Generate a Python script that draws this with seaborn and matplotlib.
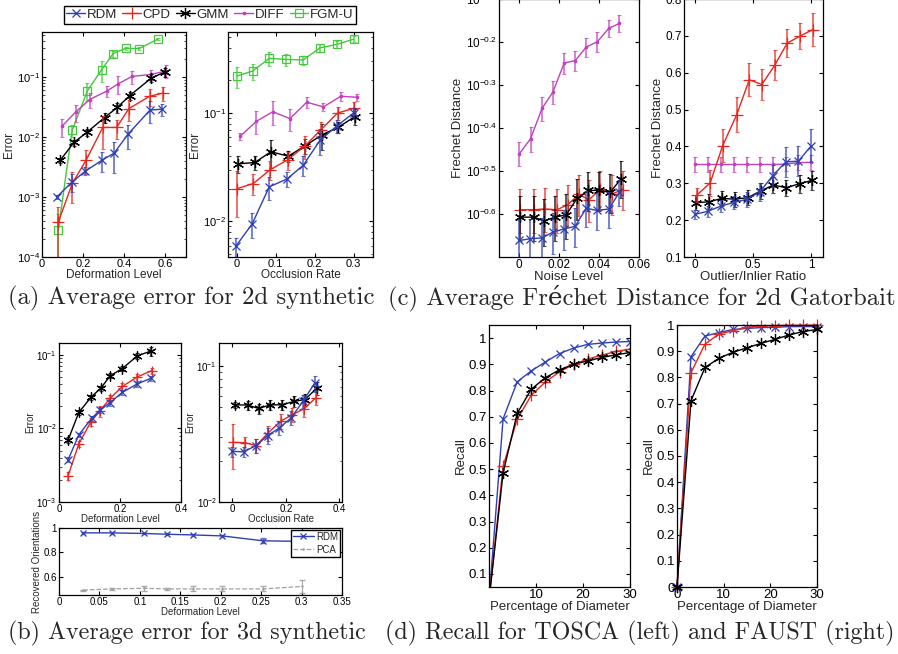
import numpy as np
import pandas as pd
import seaborn as sns
import matplotlib
matplotlib.use('Agg')
import matplotlib.pyplot as plt
from matplotlib.ticker import FixedLocator, NullLocator, LogLocator, LogFormatterMathtext

# ---------------- data ----------------
methods = ['RDM', 'CPD', 'GMM', 'DIFF', 'FGM-U']

# (a) 2d synthetic, deformation
def2d_x = {
    'RDM': [0.072, 0.148, 0.211, 0.292, 0.351, 0.417, 0.525, 0.582],
    'CPD': [0.079, 0.148, 0.216, 0.295, 0.363, 0.422, 0.523, 0.59],
    'GMM': [0.089, 0.155, 0.219, 0.304, 0.366, 0.427, 0.532, 0.596],
    'DIFF': [0.096, 0.164, 0.231, 0.315, 0.371, 0.438, 0.532, 0.602],
    'FGM-U': [0.079, 0.147, 0.221, 0.29, 0.346, 0.408, 0.472, 0.562],
}
def2d_y = {
    'RDM': [1.0e-3, 1.8e-3, 2.7e-3, 4.1e-3, 5.4e-3, 1.1e-2, 2.8e-2, 2.9e-2],
    'CPD': [3.8e-4, 1.7e-3, 4.2e-3, 1.44e-2, 1.44e-2, 2.96e-2, 4.75e-2, 5.4e-2],
    'GMM': [4.1e-3, 8.1e-3, 1.2e-2, 2.1e-2, 3.1e-2, 4.9e-2, 9.6e-2, 1.2e-1],
    'DIFF': [1.5e-2, 2.6e-2, 4.2e-2, 5.8e-2, 7.7e-2, 1.02e-1, 1.1e-1, 1.26e-1],
    'FGM-U': [2.8e-4, 1.3e-2, 5.9e-2, 1.32e-1, 2.45e-1, 3.0e-1, 2.96e-1, 4.25e-1],
}
def2d_err = {
    'RDM': [0.08e-3, 0.6e-3, 0.4e-3, 1.5e-3, 2.9e-3, 4.8e-3, 1.1e-2, 0.7e-2],
    'CPD': [3.0e-4, 0.9e-3, 1.8e-3, 0.8e-2, 0.5e-2, 1.1e-2, 1.5e-2, 1.4e-2],
    'GMM': [0.4e-3, 0.9e-3, 1.5e-3, 4e-3, 6e-3, 8e-3, 1.5e-2, 2e-2],
    'DIFF': [5e-3, 8e-3, 1.2e-2, 1.2e-2, 2.5e-2, 2.5e-2, 2e-2, 3e-2],
    'FGM-U': [2.4e-4, 3e-3, 2e-2, 5e-2, 3e-2, 2e-2, 2e-2, 2e-2],
}

# (a) 2d synthetic, occlusion
occ2d_x = {
    'RDM': [-0.002, 0.04, 0.084, 0.129, 0.171, 0.214, 0.257, 0.3],
    'CPD': [0.0, 0.043, 0.086, 0.131, 0.176, 0.216, 0.259, 0.302],
    'GMM': [0.004, 0.047, 0.088, 0.133, 0.176, 0.219, 0.261, 0.304],
    'DIFF': [0.009, 0.051, 0.093, 0.137, 0.18, 0.223, 0.267, 0.309],
    'FGM-U': [0.0, 0.041, 0.084, 0.127, 0.171, 0.214, 0.257, 0.3],
}
occ2d_y = {
    'RDM': [5.9e-3, 9.5e-3, 2.09e-2, 2.46e-2, 3.3e-2, 5.6e-2, 7.6e-2, 1.0e-1],
    'CPD': [2.0e-2, 2.24e-2, 3.0e-2, 3.7e-2, 5.0e-2, 7.0e-2, 1.0e-1, 1.11e-1],
    'GMM': [3.4e-2, 3.5e-2, 4.4e-2, 4.0e-2, 5.0e-2, 6.3e-2, 7.4e-2, 9.3e-2],
    'DIFF': [6.1e-2, 8.4e-2, 1.03e-1, 8.9e-2, 1.26e-1, 1.14e-1, 1.43e-1, 1.40e-1],
    'FGM-U': [2.19e-1, 2.44e-1, 3.2e-1, 3.13e-1, 3.09e-1, 4.0e-1, 4.3e-1, 4.8e-1],
}
occ2d_err = {
    'RDM': [1.2e-3, 2.5e-3, 5e-3, 4e-3, 7e-3, 1.5e-2, 1e-2, 1.2e-2],
    'CPD': [0.9e-2, 0.5e-2, 0.6e-2, 0.7e-2, 1.2e-2, 1.2e-2, 1.4e-2, 1.5e-2],
    'GMM': [0.6e-2, 0.5e-2, 1.3e-2, 0.5e-2, 0.8e-2, 1.7e-2, 0.8e-2, 1.5e-2],
    'DIFF': [0.5e-2, 2e-2, 2.5e-2, 2e-2, 1.5e-2, 1e-2, 1.5e-2, 1e-2],
    'FGM-U': [5e-2, 4e-2, 5e-2, 4e-2, 3e-2, 3e-2, 3e-2, 3e-2],
}

# (c) Gatorbait, noise
noise_x = {
    'RDM': [0.0002, 0.0057, 0.0115, 0.017, 0.0226, 0.028, 0.0336, 0.039, 0.0449, 0.0502],
    'CPD': [0.0003, 0.0073, 0.013, 0.019, 0.0243, 0.030, 0.035, 0.0406, 0.0465, 0.052],
    'GMM': [0.0007, 0.0073, 0.0126, 0.018, 0.0236, 0.029, 0.0347, 0.0402, 0.0455, 0.051],
    'DIFF': [0.0002, 0.0058, 0.0115, 0.017, 0.0226, 0.0281, 0.0336, 0.0392, 0.0449, 0.0502],
}
noise_y = {
    'RDM': [0.218, 0.220, 0.221, 0.228, 0.232, 0.235, 0.259, 0.256, 0.258, 0.282],
    'CPD': [0.257, 0.257, 0.258, 0.257, 0.264, 0.279, 0.271, 0.287, 0.280, 0.286],
    'GMM': [0.247, 0.247, 0.242, 0.247, 0.250, 0.273, 0.285, 0.285, 0.282, 0.303],
    'DIFF': [0.347, 0.376, 0.442, 0.483, 0.564, 0.571, 0.614, 0.632, 0.679, 0.697],
}
noise_err = {
    'RDM': [0.025, 0.025, 0.025, 0.025, 0.025, 0.025, 0.025, 0.025, 0.025, 0.02],
    'CPD': [0.03, 0.03, 0.03, 0.03, 0.03, 0.03, 0.03, 0.03, 0.03, 0.03],
    'GMM': [0.03, 0.03, 0.03, 0.03, 0.03, 0.03, 0.03, 0.03, 0.03, 0.03],
    'DIFF': [0.022, 0.025, 0.028, 0.03, 0.032, 0.03, 0.032, 0.035, 0.03, 0.032],
}

# (c) Gatorbait, outliers
outl_x = {
    'RDM': [0.006, 0.114, 0.224, 0.338, 0.452, 0.56, 0.668, 0.781, 0.889, 1.0],
    'CPD': [0.02, 0.134, 0.241, 0.361, 0.469, 0.577, 0.688, 0.793, 0.906, 1.014],
    'GMM': [0.011, 0.128, 0.233, 0.347, 0.455, 0.565, 0.673, 0.787, 0.9, 1.008],
    'DIFF': [0.0, 0.114, 0.227, 0.338, 0.452, 0.56, 0.668, 0.781, 0.889, 1.0],
}
outl_y = {
    'RDM': [0.216, 0.224, 0.238, 0.248, 0.257, 0.277, 0.320, 0.358, 0.360, 0.402],
    'CPD': [0.268, 0.301, 0.402, 0.486, 0.581, 0.568, 0.621, 0.680, 0.700, 0.717],
    'GMM': [0.247, 0.250, 0.259, 0.257, 0.261, 0.279, 0.295, 0.288, 0.299, 0.308],
    'DIFF': [0.351, 0.351, 0.351, 0.351, 0.351, 0.351, 0.351, 0.352, 0.356, 0.357],
}
outl_err = {
    'RDM': [0.012, 0.015, 0.017, 0.017, 0.02, 0.025, 0.03, 0.04, 0.04, 0.045],
    'CPD': [0.018, 0.035, 0.045, 0.048, 0.045, 0.043, 0.04, 0.038, 0.035, 0.045],
    'GMM': [0.02, 0.02, 0.02, 0.02, 0.02, 0.022, 0.022, 0.022, 0.024, 0.025],
    'DIFF': [0.02, 0.02, 0.02, 0.02, 0.02, 0.02, 0.02, 0.02, 0.02, 0.02],
}

# (b) 3d synthetic
def3d_x = {
    'RDM': [0.03, 0.065, 0.107, 0.135, 0.168, 0.207, 0.255, 0.302],
    'CPD': [0.03, 0.065, 0.105, 0.135, 0.168, 0.208, 0.255, 0.304],
    'GMM': [0.03, 0.065, 0.105, 0.137, 0.168, 0.207, 0.257, 0.302],
}
def3d_y = {
    'RDM': [3.76e-3, 8.2e-3, 1.37e-2, 1.79e-2, 2.25e-2, 3.08e-2, 4.0e-2, 4.82e-2],
    'CPD': [2.28e-3, 6.2e-3, 1.24e-2, 1.75e-2, 2.58e-2, 3.72e-2, 4.98e-2, 6.1e-2],
    'GMM': [7.0e-3, 1.65e-2, 2.66e-2, 3.53e-2, 5.19e-2, 6.5e-2, 9.7e-2, 1.13e-1],
}
def3d_err = {
    'RDM': [0.3e-3, 0.6e-3, 1e-3, 1.5e-3, 2e-3, 2.5e-3, 3e-3, 4e-3],
    'CPD': [0.3e-3, 0.6e-3, 1.5e-3, 3e-3, 3e-3, 4e-3, 5e-3, 6e-3],
    'GMM': [0.6e-3, 1.5e-3, 2e-3, 3e-3, 4e-3, 5e-3, 1e-2, 1.5e-2],
}
occ3d_x = {
    'RDM': [0.0, 0.042, 0.088, 0.132, 0.176, 0.22, 0.264, 0.308],
    'CPD': [0.001, 0.048, 0.089, 0.134, 0.18, 0.224, 0.268, 0.312],
    'GMM': [0.01, 0.057, 0.098, 0.142, 0.186, 0.23, 0.272, 0.316],
}
occ3d_y = {
    'RDM': [2.36e-2, 2.34e-2, 2.6e-2, 3.08e-2, 3.51e-2, 4.16e-2, 5.52e-2, 7.5e-2],
    'CPD': [2.75e-2, 2.73e-2, 2.6e-2, 3.23e-2, 3.93e-2, 4.4e-2, 4.85e-2, 5.85e-2],
    'GMM': [5.19e-2, 5.17e-2, 4.88e-2, 5.19e-2, 5.19e-2, 5.5e-2, 5.68e-2, 6.9e-2],
}
occ3d_err = {
    'RDM': [2e-3, 2e-3, 3e-3, 4e-3, 4e-3, 5e-3, 6e-3, 1e-2],
    'CPD': [1e-2, 3e-3, 3e-3, 4e-3, 5e-3, 5e-3, 6e-3, 7e-3],
    'GMM': [3e-3, 4e-3, 4e-3, 4e-3, 4e-3, 5e-3, 6e-3, 8e-3],
}
orient_x = [0.03, 0.065, 0.105, 0.133, 0.166, 0.202, 0.252, 0.3]
orient_rdm = [0.96, 0.96, 0.955, 0.949, 0.943, 0.935, 0.895, 0.89]
orient_rdm_err = [0.01, 0.01, 0.008, 0.008, 0.008, 0.01, 0.02, 0.02]
orient_pca = [0.49, 0.5, 0.505, 0.5, 0.5, 0.5, 0.5, 0.52]
orient_pca_err = [0.005, 0.01, 0.02, 0.01, 0.02, 0.02, 0.02, 0.05]

# (d) recall curves
diam = [0, 3, 6, 9, 12, 15, 18, 21, 24, 27, 30]
tosca = {
    'RDM': [0.0, 0.692, 0.833, 0.875, 0.909, 0.941, 0.962, 0.976, 0.981, 0.985, 0.987],
    'CPD': [0.0, 0.511, 0.69, 0.782, 0.833, 0.871, 0.90, 0.92, 0.935, 0.949, 0.958],
    'GMM': [0.0, 0.485, 0.713, 0.805, 0.849, 0.879, 0.90, 0.913, 0.926, 0.936, 0.945],
}
faust = {
    'RDM': [0.0, 0.879, 0.958, 0.971, 0.983, 0.987, 0.99, 0.991, 0.994, 0.994, 0.994],
    'CPD': [0.0, 0.818, 0.927, 0.966, 0.978, 0.991, 0.997, 0.998, 0.999, 0.999, 1.0],
    'GMM': [0.0, 0.711, 0.838, 0.873, 0.896, 0.913, 0.93, 0.945, 0.962, 0.975, 0.983],
}

# ---------------- styles ----------------
colors = {'RDM': '#2f3fb4', 'CPD': '#e8261e', 'GMM': '#000000',
          'DIFF': '#c040c0', 'FGM-U': '#44c83c'}
markers = {'RDM': 'x', 'CPD': '+', 'GMM': (6, 2, 0), 'DIFF': '.', 'FGM-U': 's'}
msizes = {'RDM': 6, 'CPD': 8, 'GMM': 8, 'DIFF': 3.5, 'FGM-U': 6}

sns.set_style('ticks')
plt.rcParams['font.family'] = ['Liberation Sans', 'DejaVu Sans']
plt.rcParams['mathtext.default'] = 'regular'
plt.rcParams['axes.linewidth'] = 0.9

fig = plt.figure(figsize=(8.98, 6.54), dpi=100)
W, H = 898.0, 654.0


def make_ax(l, t, r, b):
    ax = fig.add_axes([l / W, 1 - b / H, (r - l) / W, (b - t) / H])
    for s in ax.spines.values():
        s.set_color('black')
    ax.tick_params(direction='in', top=True, right=True, colors='black',
                   length=3, width=0.8, which='major')
    ax.tick_params(direction='in', top=True, right=True, which='minor',
                   length=1.8, width=0.6)
    return ax


def draw(ax, x, y, err, m, lw=1.0, ms_scale=1.0, ebar=True):
    c = colors[m]
    df = pd.DataFrame({'x': x, 'y': y})
    sns.lineplot(data=df, x='x', y='y', ax=ax, color=c, marker=markers[m],
                 markersize=msizes[m] * ms_scale, markeredgecolor=c,
                 markerfacecolor='none' if m == 'FGM-U' else c,
                 markeredgewidth=0.9, linewidth=lw, errorbar=None, sort=False)
    line = ax.lines[-1]
    if ebar and err is not None:
        ax.errorbar(x, y, yerr=err, fmt='none', ecolor=c, elinewidth=1.3,
                    capsize=1.5, capthick=0.8, alpha=0.7)
    return line


def log_ticks(ax, ticks, fs):
    ax.set_yscale('log')
    ax.yaxis.set_major_locator(FixedLocator(ticks))
    ax.yaxis.set_major_formatter(LogFormatterMathtext())
    ax.yaxis.set_minor_locator(LogLocator(base=10, subs=np.arange(2, 10)))
    ax.yaxis.set_minor_formatter(plt.NullFormatter())
    ax.tick_params(axis='y', labelsize=fs)


def finish(ax, xlabel, ylabel, fs_lab, fs_tick, xpad=0, ypad=1):
    ax.set_xlabel(xlabel, fontsize=fs_lab, labelpad=xpad)
    ax.set_ylabel(ylabel, fontsize=fs_lab, labelpad=ypad)
    ax.tick_params(labelsize=fs_tick, pad=1.5)


# ---------------- (a) ----------------
ax = make_ax(42, 32, 186, 257)
handles = []
for m in ['FGM-U', 'DIFF', 'GMM', 'CPD', 'RDM']:
    draw(ax, def2d_x[m], def2d_y[m], def2d_err[m], m)
ax.set_xlim(0, 0.7)
ax.set_ylim(1e-4, 0.56)
ax.set_xticks([0, 0.2, 0.4, 0.6])
ax.set_xticklabels(['0', '0.2', '0.4', '0.6'])
log_ticks(ax, [1e-4, 1e-3, 1e-2, 1e-1], 8)
finish(ax, 'Deformation Level', 'Error', 8.5, 8)

ax = make_ax(228, 32, 373, 257)
for m in ['FGM-U', 'DIFF', 'GMM', 'CPD', 'RDM']:
    handles.append((m, draw(ax, occ2d_x[m], occ2d_y[m], occ2d_err[m], m)))
ax.set_xlim(-0.022, 0.35)
ax.set_ylim(0.0047, 0.56)
ax.set_xticks([0, 0.1, 0.2, 0.3])
ax.set_xticklabels(['0', '0.1', '0.2', '0.3'])
log_ticks(ax, [1e-2, 1e-1], 8)
finish(ax, 'Occlusion Rate', 'Error', 8.5, 8)

hd = dict(handles)
fig.legend([hd[m] for m in methods], methods, loc='center',
           bbox_to_anchor=(210 / W, 1 - 15 / H), ncol=5, fontsize=9.5,
           frameon=True, fancybox=False, edgecolor='black', framealpha=1,
           handlelength=1.4, handletextpad=0.15, columnspacing=0.4,
           borderpad=0.2, borderaxespad=0)

# ---------------- (c) ----------------
ax = make_ax(499, -1, 639, 257)
for m in ['DIFF', 'CPD', 'GMM', 'RDM']:
    draw(ax, noise_x[m], noise_y[m], noise_err[m], m)
ax.set_yscale('log')
ax.set_xlim(-0.01, 0.06)
ax.set_ylim(10 ** -0.7, 10 ** -0.1)
ax.set_xticks([0, 0.02, 0.04, 0.06])
ax.set_xticklabels(['0', '0.02', '0.04', '0.06'])
exps = [-0.6, -0.5, -0.4, -0.3, -0.2, -0.1]
ax.yaxis.set_major_locator(FixedLocator([10 ** e for e in exps]))
ax.yaxis.set_minor_locator(NullLocator())
ax.set_yticklabels(['$10^{%g}$' % e for e in exps])
finish(ax, 'Noise Level', 'Frechet Distance', 9.5, 8.5)

ax = make_ax(684, -1, 823, 257)
for m in ['DIFF', 'GMM', 'RDM', 'CPD']:
    draw(ax, outl_x[m], outl_y[m], outl_err[m], m)
ax.set_xlim(-0.09, 1.1)
ax.set_ylim(0.1, 0.8)
ax.set_xticks([0, 0.5, 1])
ax.set_xticklabels(['0', '0.5', '1'])
ax.set_yticks([0.1, 0.2, 0.3, 0.4, 0.5, 0.6, 0.7, 0.8])
ax.set_yticklabels(['0.1', '0.2', '0.3', '0.4', '0.5', '0.6', '0.7', '0.8'])
finish(ax, 'Outlier/Inlier Ratio', 'Frechet Distance', 9.5, 8.5)

# ---------------- (b) ----------------
ax = make_ax(59, 343, 181, 502)
for m in ['GMM', 'CPD', 'RDM']:
    draw(ax, def3d_x[m], def3d_y[m], def3d_err[m], m, ms_scale=0.9)
ax.set_xlim(0, 0.4)
ax.set_ylim(1e-3, 0.145)
ax.set_xticks([0, 0.2, 0.4])
ax.set_xticklabels(['0', '0.2', '0.4'])
log_ticks(ax, [1e-3, 1e-2, 1e-1], 7)
finish(ax, 'Deformation Level', 'Error', 7, 7)

ax = make_ax(219, 343, 342, 502)
for m in ['GMM', 'CPD', 'RDM']:
    draw(ax, occ3d_x[m], occ3d_y[m], occ3d_err[m], m, ms_scale=0.9)
ax.set_xlim(-0.05, 0.41)
ax.set_ylim(1e-2, 0.148)
ax.set_xticks([0, 0.2, 0.4])
ax.set_xticklabels(['0', '0.2', '0.4'])
log_ticks(ax, [1e-2, 1e-1], 7)
finish(ax, 'Occlusion Rate', 'Error', 7, 7)

ax = make_ax(59, 528, 342, 595)
c = colors['RDM']
sns.lineplot(x=orient_x, y=orient_rdm, ax=ax, color=c, marker='x', markersize=4,
             markeredgecolor=c, markeredgewidth=0.9, linewidth=1.0,
             errorbar=None, label='RDM')
ax.errorbar(orient_x, orient_rdm, yerr=orient_rdm_err, fmt='none', ecolor=c,
            elinewidth=1.0, capsize=1.5, alpha=0.7)
g = '#a0a0a0'
sns.lineplot(x=orient_x, y=orient_pca, ax=ax, color=g, marker='.', markersize=2,
             markeredgecolor=g, linewidth=0.9, linestyle='--',
             errorbar=None, label='PCA')
ax.errorbar(orient_x, orient_pca, yerr=orient_pca_err, fmt='none', ecolor=g,
            elinewidth=0.8, capsize=2, alpha=0.9)
ax.set_xlim(0, 0.35)
ax.set_ylim(0.45, 1.0)
ax.set_xticks([0, 0.05, 0.1, 0.15, 0.2, 0.25, 0.3, 0.35])
ax.set_xticklabels(['0', '0.05', '0.1', '0.15', '0.2', '0.25', '0.3', '0.35'])
ax.set_yticks([0.6, 0.8, 1.0])
ax.set_yticklabels(['0.6', '0.8', '1'])
finish(ax, 'Deformation Level', 'Recovered Orientations', 7, 7, xpad=0)
ax.legend(loc='upper right', fontsize=7, frameon=True, fancybox=False,
          edgecolor='black', framealpha=1, handlelength=2.2,
          handletextpad=0.2, borderpad=0.2, borderaxespad=0.2,
          labelspacing=0.3)

# ---------------- (d) ----------------
ax = make_ax(489, 325, 630, 587)
for m in ['RDM', 'CPD', 'GMM']:
    draw(ax, diam, tosca[m], None, m, ebar=False)
ax.set_xlim(0, 30)
ax.set_ylim(0.05, 1.05)
ax.set_xticks([10, 20, 30])
ax.set_xticklabels(['10', '20', '30'])
yt = [0.1, 0.2, 0.3, 0.4, 0.5, 0.6, 0.7, 0.8, 0.9, 1.0]
ax.set_yticks(yt)
ax.set_yticklabels(['0.1', '0.2', '0.3', '0.4', '0.5', '0.6', '0.7', '0.8', '0.9', '1'])
finish(ax, 'Percentage of Diameter', 'Recall', 9.5, 9.5)

ax = make_ax(677, 325, 817, 587)
for m in ['RDM', 'CPD', 'GMM']:
    draw(ax, diam, faust[m], None, m, ebar=False)
ax.set_xlim(0, 30)
ax.set_ylim(0, 1.0)
ax.set_xticks([0, 10, 20, 30])
ax.set_xticklabels(['0', '10', '20', '30'])
yt = [0, 0.1, 0.2, 0.3, 0.4, 0.5, 0.6, 0.7, 0.8, 0.9, 1.0]
ax.set_yticks(yt)
ax.set_yticklabels(['0', '0.1', '0.2', '0.3', '0.4', '0.5', '0.6', '0.7', '0.8', '0.9', '1'])
for lab in ax.lines:
    lab.set_clip_on(False)
finish(ax, 'Percentage of Diameter', 'Recall', 9.5, 9.5)

# ---------------- captions ----------------
cap = dict(fontsize=17.8, family=['cmr10', 'DejaVu Serif'], ha='center', va='center')
fig.text(191 / W, 1 - 298 / H, '(a) Average error for 2d synthetic', **cap)
fig.text(642 / W, 1 - 298 / H, '(c) Average Fréchet Distance for 2d Gatorbait', **cap)
cap['fontsize'] = 17.3
fig.text(187 / W, 1 - 633 / H, '(b) Average error for 3d synthetic', **cap)
fig.text(640 / W, 1 - 633 / H, '(d) Recall for TOSCA (left) and FAUST (right)', **cap)

fig.savefig('out.png', dpi=100)
